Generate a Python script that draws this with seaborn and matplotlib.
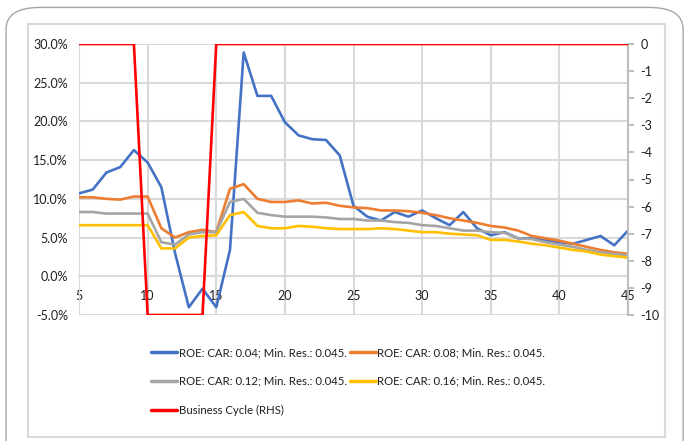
import matplotlib
matplotlib.use("Agg")
import matplotlib.pyplot as plt
import seaborn as sns
import pandas as pd
from matplotlib.patches import FancyBboxPatch, Rectangle
from matplotlib.lines import Line2D

periods = list(range(5, 46))
roe_car_004 = [10.7, 11.2, 13.4, 14.1, 16.3, 14.7, 11.5, 3.0, -4.0, -1.6, -4.0,
               3.4, 28.9, 23.3, 23.3, 19.9, 18.2, 17.7, 17.6, 15.6, 9.1, 7.7, 7.2, 8.3,
               7.7, 8.5, 7.5, 6.6, 8.3, 6.2, 5.3, 5.7, 4.9, 4.9, 4.65, 4.4, 4.2, 4.7, 5.2, 4.0, 5.9]
roe_car_008 = [10.2, 10.2, 10.0, 9.9, 10.3, 10.3, 6.2, 5.0, 5.7, 6.0, 5.7,
               11.3, 11.9, 10.0, 9.6, 9.6, 9.8, 9.4, 9.5, 9.1, 8.9, 8.8, 8.5, 8.5,
               8.4, 8.2, 7.9, 7.5, 7.2, 6.9, 6.5, 6.3, 5.9, 5.2, 4.9, 4.6, 4.2, 3.8, 3.4, 3.1, 2.9]
roe_car_012 = [8.3, 8.3, 8.1, 8.1, 8.1, 8.1, 4.4, 4.1, 5.4, 5.7, 5.7,
               9.6, 10.0, 8.2, 7.9, 7.7, 7.7, 7.7, 7.6, 7.4, 7.4, 7.2, 7.2, 7.0,
               6.9, 6.6, 6.5, 6.2, 5.9, 5.9, 5.7, 5.6, 4.9, 4.8, 4.4, 4.1, 3.8, 3.4, 3.1, 2.9, 2.7]
roe_car_016 = [6.6, 6.6, 6.6, 6.6, 6.6, 6.6, 3.6, 3.6, 5.0, 5.2, 5.3,
               7.9, 8.3, 6.5, 6.2, 6.2, 6.5, 6.4, 6.2, 6.1, 6.1, 6.1, 6.2, 6.1,
               5.9, 5.7, 5.7, 5.5, 5.4, 5.3, 4.7, 4.7, 4.5, 4.2, 4.0, 3.7, 3.4, 3.2, 2.8, 2.6, 2.4]
business_cycle = [0] * 5 + [-10] * 5 + [0] * 31

series_names = ["ROE: CAR: 0.04; Min. Res.: 0.045.",
                "ROE: CAR: 0.08; Min. Res.: 0.045.",
                "ROE: CAR: 0.12; Min. Res.: 0.045.",
                "ROE: CAR: 0.16; Min. Res.: 0.045."]
cycle_name = "Business Cycle (RHS)"
left_ticks = [-5, 0, 5, 10, 15, 20, 25, 30]
right_ticks = list(range(0, -11, -1))
x_ticks = [5, 10, 15, 20, 25, 30, 35, 40, 45]

colors = ["#4472C4", "#ED7D31", "#A5A5A5", "#FFC000"]
red = "#FF0000"
grid_c = "#D9D9D9"
text_c = "#1F1F1F"

sns.set_theme(style="white")
plt.rcParams["font.family"] = ["Lato", "DejaVu Sans"]

rows = []
for name, vals in zip(series_names, [roe_car_004, roe_car_008, roe_car_012, roe_car_016]):
    for p, v in zip(periods, vals):
        rows.append({"period": p, "roe": v, "series": name})
df = pd.DataFrame(rows)
df_bc = pd.DataFrame({"period": periods, "cycle": business_cycle})

fig = plt.figure(figsize=(6.84, 4.41), dpi=100)
W, H = 684, 441

# outer rounded frame and inner chart border
fig.patches.append(FancyBboxPatch((6 / W, -0.1), 0.99, 1.09 - 3 / H + 0.0,
                                  boxstyle="round,pad=0,rounding_size=0.05",
                                  transform=fig.transFigure, fill=False,
                                  edgecolor="#A6A6A6", linewidth=1.0))
fig.patches.append(Rectangle((28 / W, 1 - 437 / H), (665 - 28) / W, (437 - 24) / H,
                             transform=fig.transFigure, fill=False,
                             edgecolor=grid_c, linewidth=1.5))

ax = fig.add_axes([79 / W, 1 - 315 / H, (628 - 79) / W, (315 - 44) / H])
ax2 = ax.twinx()

sns.lineplot(data=df, x="period", y="roe", hue="series", palette=colors,
             ax=ax, linewidth=1.9, legend=False, zorder=3)
sns.lineplot(data=df_bc, x="period", y="cycle", color=red, ax=ax2,
             linewidth=1.9, legend=False, zorder=3)

ax.set_xlim(5, 45)
ax.set_ylim(-5, 30)
ax2.set_ylim(-10, 0)
ax.set_xticks(x_ticks)
ax.set_xticklabels([str(t) for t in x_ticks])
ax.set_yticks(left_ticks)
ax.set_yticklabels([f"{t:.1f}%" for t in left_ticks])
ax2.set_yticks(right_ticks)
ax2.set_yticklabels([str(t) for t in right_ticks])
ax.set_xlabel("")
ax.set_ylabel("")
ax2.set_ylabel("")

ax.grid(True, color=grid_c, linewidth=1.5)
ax.set_axisbelow(True)
for s in ["top", "left", "right"]:
    ax.spines[s].set_visible(False)
ax.spines["bottom"].set_position(("data", 0))
ax.spines["bottom"].set_color(grid_c)
ax.spines["bottom"].set_linewidth(1.5)
for s in ["top", "left", "bottom"]:
    ax2.spines[s].set_visible(False)
ax2.spines["right"].set_color("#BFBFBF")
ax2.spines["right"].set_linewidth(1.5)

ax.tick_params(axis="x", length=0, pad=10, labelsize=9, labelcolor=text_c)
ax.tick_params(axis="y", length=0, pad=8, labelsize=9, labelcolor=text_c)
ax2.tick_params(axis="y", direction="out", length=4, width=1.5, color="#BFBFBF",
                pad=5, labelsize=9, labelcolor=text_c)

# line for left edge (x=5)
ax.axvline(5, color=grid_c, linewidth=1.5, zorder=1)

handles = [Line2D([], [], color=c, linewidth=2.5) for c in colors]
red_h = Line2D([], [], color=red, linewidth=2.5)
order_h = [handles[0], handles[2], red_h, handles[1], handles[3]]
order_l = [series_names[0], series_names[2], cycle_name, series_names[1], series_names[3]]
fig.legend(order_h, order_l, ncol=2, loc="upper left",
           bbox_to_anchor=(141 / W, 1 - 337 / H), frameon=False,
           fontsize=8.2, handlelength=2.25, handletextpad=0.15, columnspacing=0.3,
           labelspacing=1.55, labelcolor=text_c)

fig.savefig("out.png", dpi=100)
